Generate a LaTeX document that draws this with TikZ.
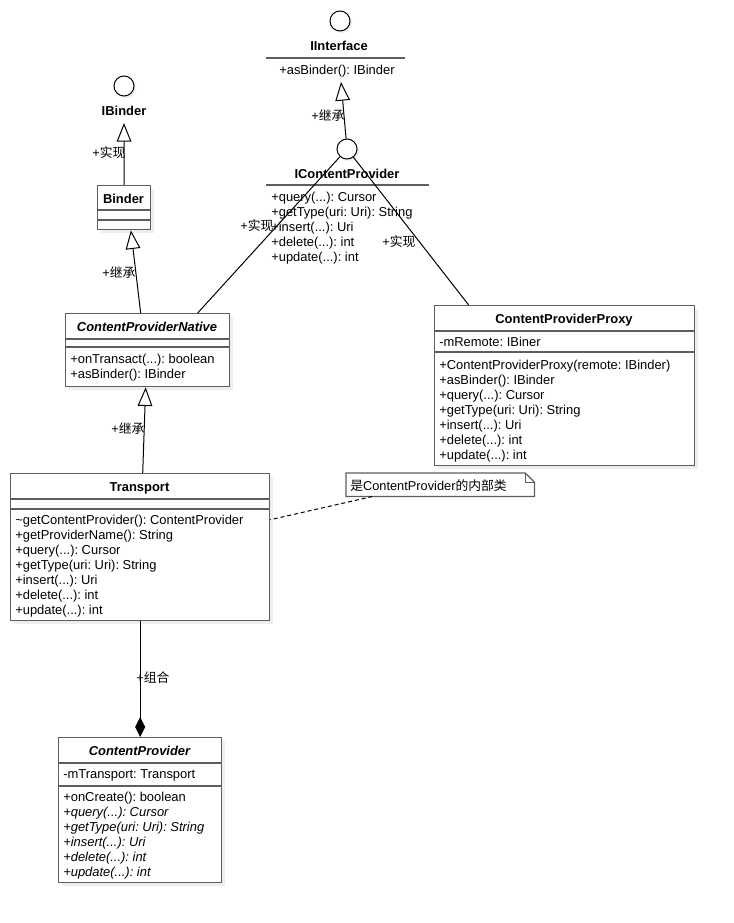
\documentclass[tikz,border=0pt]{standalone}
\usepackage{fontspec}
\setmainfont{Liberation Sans}
\newfontfamily\cjk{Noto Sans CJK SC}
\usetikzlibrary{arrows.meta,shadows}
\definecolor{Frame}{HTML}{5E5E5E}
\definecolor{Shade}{HTML}{EEEEEE}
\newcommand\zh[1]{{\cjk #1}}
\frenchspacing
\tikzset{
  cls/.style={draw=Frame,fill=white,line width=1pt,anchor=north west,inner sep=0pt,
    drop shadow={shadow xshift=2.4pt,shadow yshift=-2.4pt,fill=Shade,opacity=1}},
  iface/.style={circle,draw=black,fill=white,line width=.75pt,minimum size=15pt,inner sep=0pt,
    drop shadow={shadow xshift=1.5pt,shadow yshift=-1.5pt,fill=Shade,opacity=1}},
  title/.style={font=\bfseries\fontsize{9.7}{11}\selectfont,inner sep=0pt,text height=10pt,text depth=2pt},
  atitle/.style={title,font=\bfseries\itshape\fontsize{9.7}{11}\selectfont},
  members/.style={font=\fontsize{9.7}{11.25}\selectfont,align=left,anchor=north west,inner sep=0pt},
  lab/.style={font=\fontsize{9.6}{11}\selectfont,inner sep=0pt,text height=10pt,text depth=2pt},
  sep/.style={draw=Frame,line width=1pt},
  inherit/.style={-{Triangle[length=14pt,width=11pt,fill=white]},line width=.75pt},
  realize/.style={line width=.75pt},
  compose/.style={-{Diamond[length=15pt,width=7.5pt]},line width=.75pt},
  notelink/.style={line width=.75pt,dash pattern=on 3pt off 2.2pt}
}
\begin{document}
\begin{tikzpicture}[x=0.75pt,y=-0.75pt]
  \fill[white] (0,0) rectangle (734,923);
  \useasboundingbox (0,0) rectangle (734,923);

  % interfaces
  \node[iface] (iinterface) at (340,21) {};
  \node[title] (iinterface-name) at (339,45) {IInterface};
  \draw[sep] (266,58) -- (405,58);
  \node[members] (iinterface-ops) at (279,65) {+asBinder(): IBinder};
  \coordinate (iinterface-foot) at (341,82);

  \node[iface] (icp) at (347,149) {};
  \node[title] (icp-name) at (347,173) {IContentProvider};
  \draw[sep] (266,185) -- (429,185);
  \node[members] (icp-ops) at (271,192) {+query(...): Cursor\\+getType(uri: Uri): String\\+insert(...): Uri\\+delete(...): int\\+update(...): int};

  \node[iface] (ibinder) at (124,86) {};
  \node[title] (ibinder-name) at (124,110) {IBinder};
  \coordinate (ibinder-foot) at (124,123);

  % classes
  \node[cls,minimum width=39.75pt,minimum height=33pt] (binder) at (97,185) {};
  \node[title] (binder-name) at (123.5,198) {Binder};
  \draw[sep] (97,210) -- (150,210);
  \draw[sep] (97,220) -- (150,220);

  \node[cls,minimum width=123pt,minimum height=54.75pt] (cpnative) at (65,313) {};
  \node[atitle] (cpnative-name) at (147,326) {ContentProviderNative};
  \draw[sep] (65,339) -- (229,339);
  \draw[sep] (65,347) -- (229,347);
  \node[members] (cpnative-ops) at (70,354) {+onTransact(...): boolean\\+asBinder(): IBinder};

  \node[cls,minimum width=195pt,minimum height=120pt] (proxy) at (434,305) {};
  \node[title] (proxy-name) at (564,318) {ContentProviderProxy};
  \draw[sep] (434,331) -- (694,331);
  \node[members] (proxy-attr) at (439,337) {-mRemote: IBiner};
  \draw[sep] (434,352) -- (694,352);
  \node[members] (proxy-ops) at (439,360) {+ContentProviderProxy(remote: IBinder)\\+asBinder(): IBinder\\+query(...): Cursor\\+getType(uri: Uri): String\\+insert(...): Uri\\+delete(...): int\\+update(...): int};

  \node[cls,minimum width=194.25pt,minimum height=110.25pt] (transport) at (10,473) {};
  \node[title] (transport-name) at (139.5,486) {Transport};
  \draw[sep] (10,499) -- (269,499);
  \draw[sep] (10,509) -- (269,509);
  \node[members] (transport-ops) at (15,515) {\char`\~getContentProvider(): ContentProvider\\+getProviderName(): String\\+query(...): Cursor\\+getType(uri: Uri): String\\+insert(...): Uri\\+delete(...): int\\+update(...): int};

  \node[cls,minimum width=122.25pt,minimum height=108.75pt] (cp) at (58,737) {};
  \node[atitle] (cp-name) at (139.5,750) {ContentProvider};
  \draw[sep] (58,763) -- (221,763);
  \node[members] (cp-attr) at (63,769) {-mTransport: Transport};
  \draw[sep] (58,786) -- (221,786);
  \node[members] (cp-ops) at (63,792) {+onCreate(): boolean\\\itshape +query(...): Cursor\\\itshape +getType(uri: Uri): String\\\itshape +insert(...): Uri\\\itshape +delete(...): int\\\itshape +update(...): int};

  % note
  \node[anchor=north west,minimum width=141pt,minimum height=17.25pt,inner sep=0pt] (note) at (346,473) {};
  \draw[sep,fill=white] (note.north west) -- ([xshift=-7pt]note.north east) -- ([yshift=-7pt]note.north east)
    -- (note.south east) -- (note.south west) -- cycle;
  \draw[sep] ([xshift=-7pt]note.north east) -- ([xshift=-7pt,yshift=-7pt]note.north east) -- ([yshift=-7pt]note.north east);
  \node[lab,anchor=west] (note-text) at (350,485) {\zh{是}ContentProvider\zh{的内部类}};

  % relations
  \draw[inherit] (icp) -- (iinterface-foot);
  \node[lab] (icp-inherit) at (328,115) {+\zh{继承}};
  \draw[inherit] (binder.north) -- (ibinder-foot);
  \node[lab] (binder-realize) at (109,152) {+\zh{实现}};
  \draw[inherit] ([xshift=-5.25pt]cpnative.north) -- ([xshift=5pt]binder.south);
  \node[lab] (cpnative-inherit) at (119,272) {+\zh{继承}};
  \draw[realize] ([xshift=37.5pt]cpnative.north) -- (icp);
  \node[lab] (cpnative-realize) at (257,225) {+\zh{实现}};
  \draw[realize] (icp) -- ([xshift=-72pt]proxy.north);
  \node[lab] (proxy-realize) at (399,241) {+\zh{实现}};
  \draw[inherit] ([xshift=1.9pt]transport.north) -- ([xshift=-1.5pt]cpnative.south);
  \node[lab] (transport-inherit) at (128,428) {+\zh{继承}};
  \draw[compose] (transport.south) -- (cp.north);
  \node[lab] (cp-compose) at (153,677) {+\zh{组合}};
  \draw[notelink] ([xshift=-51pt]note.south) -- ([yshift=20.6pt]transport.east);
\end{tikzpicture}
\end{document}
